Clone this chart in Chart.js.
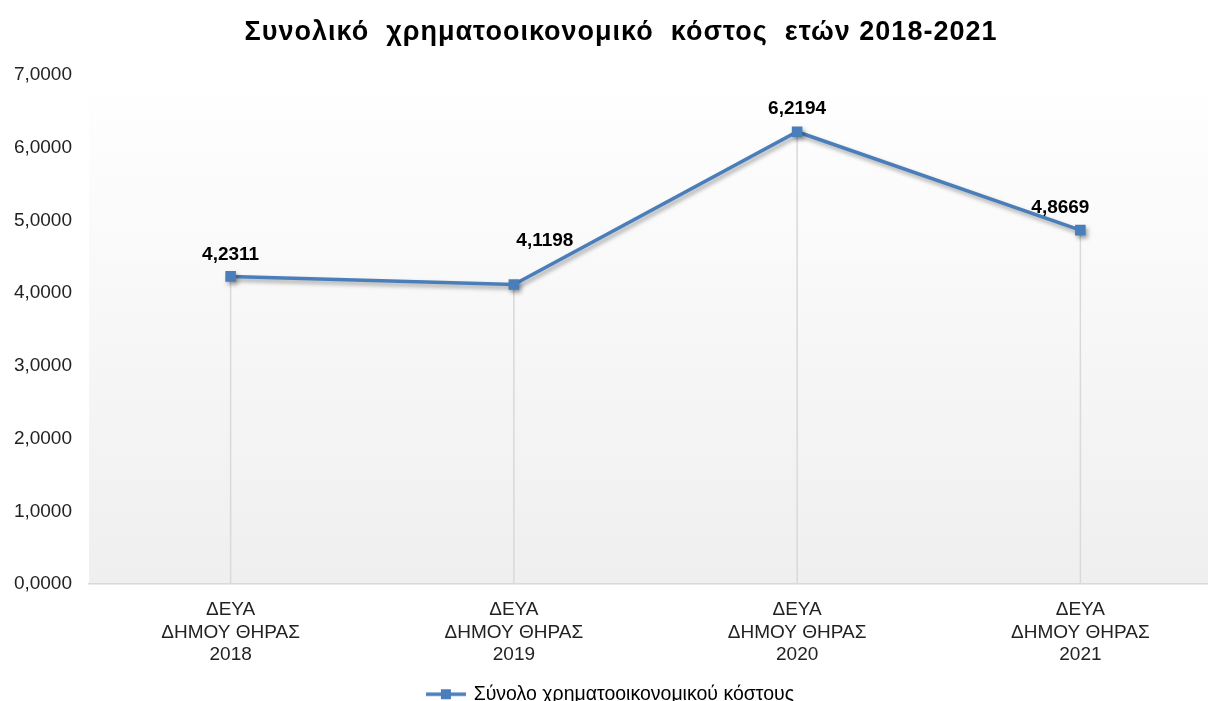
<!DOCTYPE html>
<html>
<head>
<meta charset="utf-8">
<script src="https://cdn.jsdelivr.net/npm/chart.js@4/dist/chart.umd.min.js"></script>
<style>
    html, body { margin: 0; padding: 0; background: #fff; overflow: hidden; }
    #wrap { width: 1242px; height: 714px; }
</style>
</head>
<body>
<div id="wrap"><canvas id="costChart"></canvas></div>
<script>
const categories = [
    ['ΔΕΥΑ', 'ΔΗΜΟΥ ΘΗΡΑΣ', '2018'],
    ['ΔΕΥΑ', 'ΔΗΜΟΥ ΘΗΡΑΣ', '2019'],
    ['ΔΕΥΑ', 'ΔΗΜΟΥ ΘΗΡΑΣ', '2020'],
    ['ΔΕΥΑ', 'ΔΗΜΟΥ ΘΗΡΑΣ', '2021']
];
const totalCost = [4.2311, 4.1198, 6.2194, 4.8669];
const seriesName = 'Σύνολο χρηματοοικονομικού κόστους';
const chartTitle = 'Συνολικό  χρηματοοικονομικό  κόστος  ετών 2018-2021';
const yTicks = [0, 1, 2, 3, 4, 5, 6, 7];

// nudges for the value labels so they sit like in the original
const labelShift = [[0, -22], [31, -44], [0, -23], [-20, -22]];

const lineColor = '#4a7ebb';
const fontFamily = '"Liberation Sans", Arial, sans-serif';
const fmt = v => v.toFixed(4).replace('.', ',');

// legend symbol: a short line with a square on it
const legendIcon = document.createElement('canvas');
legendIcon.width = 40;
legendIcon.height = 14;
(() => {
    const c = legendIcon.getContext('2d');
    c.strokeStyle = lineColor;
    c.lineWidth = 3.5;
    c.beginPath();
    c.moveTo(0, 7);
    c.lineTo(40, 7);
    c.stroke();
    c.fillStyle = lineColor;
    c.fillRect(15, 2, 10, 10);
})();

const plotBackground = {
    id: 'plotBackground',
    beforeDraw(chart) {
        const { ctx, chartArea: a } = chart;
        const g = ctx.createLinearGradient(0, a.top, 0, a.bottom);
        g.addColorStop(0, '#ffffff');
        g.addColorStop(1, '#efefef');
        ctx.save();
        ctx.fillStyle = g;
        ctx.fillRect(a.left, a.top, a.right - a.left, a.bottom - a.top);
        ctx.restore();
    }
};

const dropLines = {
    id: 'dropLines',
    beforeDatasetsDraw(chart) {
        const { ctx, chartArea: a } = chart;
        const pts = chart.getDatasetMeta(0).data;
        ctx.save();
        ctx.strokeStyle = '#d9d9d9';
        ctx.lineWidth = 1.5;
        pts.forEach(p => {
            ctx.beginPath();
            ctx.moveTo(p.x, p.y);
            ctx.lineTo(p.x, a.bottom);
            ctx.stroke();
        });
        ctx.restore();
        // soft shadow under the line
        ctx.save();
        ctx.shadowColor = 'rgba(0,0,0,0.35)';
        ctx.shadowBlur = 4;
        ctx.shadowOffsetX = 2;
        ctx.shadowOffsetY = 3;
    },
    afterDatasetsDraw(chart) {
        chart.ctx.restore();
    }
};

const valueLabels = {
    id: 'valueLabels',
    afterDatasetsDraw(chart) {
        const { ctx } = chart;
        const pts = chart.getDatasetMeta(0).data;
        ctx.save();
        ctx.font = 'bold 19px ' + fontFamily;
        ctx.fillStyle = '#000';
        ctx.textAlign = 'center';
        ctx.textBaseline = 'middle';
        pts.forEach((p, i) => {
            const s = labelShift[i];
            ctx.fillText(fmt(totalCost[i]), p.x + s[0], p.y + s[1]);
        });
        ctx.restore();
    }
};

// title drawn by hand so it can be spread out like the original
const spacedTitle = {
    id: 'spacedTitle',
    afterDraw(chart) {
        const { ctx } = chart;
        ctx.save();
        ctx.font = 'bold 27px ' + fontFamily;
        ctx.fillStyle = '#000';
        ctx.textBaseline = 'alphabetic';
        ctx.textAlign = 'left';
        const plain = ctx.measureText(chartTitle).width;
        const spacing = Math.max(0, (753 - plain) / chartTitle.length);
        ctx.letterSpacing = spacing + 'px';
        const w = ctx.measureText(chartTitle).width;
        ctx.fillText(chartTitle, chart.width / 2 - w / 2, 39.5);
        ctx.restore();
    }
};

new Chart(document.getElementById('costChart'), {
    type: 'line',
    data: {
        labels: categories,
        datasets: [{
            label: seriesName,
            data: totalCost,
            borderColor: lineColor,
            backgroundColor: lineColor,
            borderWidth: 3.5,
            pointStyle: 'rect',
            pointRadius: 7.5,
            pointHoverRadius: 7.5,
            pointBorderWidth: 0,
            tension: 0
        }]
    },
    options: {
        responsive: true,
        maintainAspectRatio: false,
        animation: false,
        layout: { padding: { left: 0, right: 20, top: 75, bottom: 0 } },
        scales: {
            x: {
                offset: true,
                grid: { display: false, drawTicks: false },
                border: { display: true, color: '#d9d9d9', width: 1.5 },
                ticks: {
                    padding: 14,
                    color: '#222',
                    maxRotation: 0,
                    font: { family: fontFamily, size: 19, lineHeight: 1.2 }
                }
            },
            y: {
                min: 0,
                max: 7,
                afterBuildTicks(scale) {
                    scale.ticks = yTicks.map(v => ({ value: v }));
                },
                afterFit(scale) { scale.width = 89; },
                grid: { display: false, drawTicks: false },
                border: { display: false },
                ticks: {
                    padding: 17,
                    color: '#222',
                    callback: v => fmt(v),
                    font: { family: fontFamily, size: 19 }
                }
            }
        },
        plugins: {
            title: { display: false },
            legend: {
                position: 'bottom',
                labels: {
                    usePointStyle: true,
                    pointStyle: legendIcon,
                    pointStyleWidth: 36,
                    color: '#222',
                    padding: 4,
                    font: { family: fontFamily, size: 19.5 },
                    generateLabels: () => [{
                        text: seriesName,
                        pointStyle: legendIcon,
                        fillStyle: lineColor,
                        strokeStyle: lineColor,
                        lineWidth: 0,
                        hidden: false,
                        datasetIndex: 0
                    }]
                }
            },
            tooltip: { enabled: false }
        }
    },
    plugins: [plotBackground, dropLines, valueLabels, spacedTitle]
});
</script>
</body>
</html>
